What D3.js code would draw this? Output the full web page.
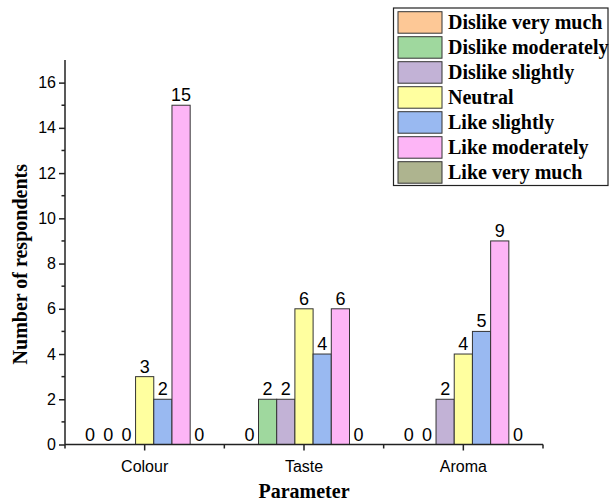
<!DOCTYPE html>
<html>
<head>
<meta charset="utf-8">
<script src="https://cdn.jsdelivr.net/npm/d3@7"></script>
<style>
  body { margin: 0; background: #fff; }
  svg { display: block; }
</style>
</head>
<body>
<div id="chart-area"></div>
<script>
const categories = ['Colour', 'Taste', 'Aroma'];
const seriesNames = ['Dislike very much', 'Dislike moderately', 'Dislike slightly',
  'Neutral', 'Like slightly', 'Like moderately', 'Like very much'];
const colours = ['#fdc896', '#9fd89e', '#c2b2d6', '#ffff9f', '#99b9f1', '#fdb5f6', '#aeb48f'];
// one array per parameter, in the order of seriesNames
const colourValues = [0, 0, 0, 3, 2, 15, 0];
const tasteValues = [0, 2, 2, 6, 4, 6, 0];
const aromaValues = [0, 0, 2, 4, 5, 9, 0];
const yTicks = [0, 2, 4, 6, 8, 10, 12, 14, 16];

const valuesByCat = {Colour: colourValues, Taste: tasteValues, Aroma: aromaValues};

const WIDTH = 610;
const HEIGHT = 502;
const PLOT = {LEFT: 65, RIGHT: 543, TOP: 60, BOTTOM: 444.5};

const SANS = "'Liberation Sans', Arial, sans-serif";
const SERIF = "'Liberation Serif', 'Times New Roman', serif";

const svg = d3.select('#chart-area').append('svg')
  .attr('width', WIDTH)
  .attr('height', HEIGHT);

const x = d3.scaleBand()
  .domain(categories)
  .range([PLOT.LEFT, PLOT.RIGHT]);

const BAR_W = 18.2;
const xInner = d3.scaleBand()
  .domain(seriesNames)
  .range([-BAR_W * 3.5, BAR_W * 3.5]);

const y = d3.scaleLinear()
  .domain([0, 17])
  .range([PLOT.BOTTOM, PLOT.TOP]);

const color = d3.scaleOrdinal().domain(seriesNames).range(colours);

// flat list of bars
const bars = [];
categories.forEach(c => {
  valuesByCat[c].forEach((v, i) => {
    bars.push({cat: c, series: seriesNames[i], value: v});
  });
});

const barX = d => x(d.cat) + x.bandwidth() / 2 + xInner(d.series);

svg.append('g').selectAll('rect')
  .data(bars.filter(d => d.value > 0))
  .enter().append('rect')
  .attr('x', barX)
  .attr('y', d => y(d.value))
  .attr('width', xInner.bandwidth())
  .attr('height', d => y(0) - y(d.value))
  .attr('fill', d => color(d.series))
  .attr('stroke', '#333')
  .attr('stroke-width', 1);

svg.append('g').selectAll('text')
  .data(bars)
  .enter().append('text')
  .attr('x', d => barX(d) + xInner.bandwidth() / 2)
  .attr('y', d => y(d.value) - 4)
  .attr('text-anchor', 'middle')
  .attr('font-family', SANS)
  .attr('font-size', 18)
  .attr('fill', '#000')
  .text(d => d.value);

// y axis
const yAxis = d3.axisLeft(y)
  .tickValues(yTicks)
  .tickSize(6)
  .tickPadding(3);
const gy = svg.append('g')
  .attr('transform', `translate(${PLOT.LEFT},0)`)
  .call(yAxis);
gy.select('.domain').attr('stroke', '#222').attr('stroke-width', 1.5).attr('d', `M0,${PLOT.BOTTOM}V${PLOT.TOP}`);
gy.selectAll('.tick line').attr('stroke', '#222').attr('stroke-width', 1.5);
gy.selectAll('.tick text').attr('font-family', SANS).attr('font-size', 16).attr('fill', '#000');

const minorY = d3.range(1, 17, 2);
gy.selectAll('.minor')
  .data(minorY)
  .enter().append('line')
  .attr('class', 'minor')
  .attr('x1', -3.5)
  .attr('x2', 0)
  .attr('y1', d => y(d))
  .attr('y2', d => y(d))
  .attr('stroke', '#222')
  .attr('stroke-width', 1.5);

// x axis
const xAxis = d3.axisBottom(x)
  .tickSize(6)
  .tickPadding(10);
const gx = svg.append('g')
  .attr('transform', `translate(0,${PLOT.BOTTOM})`)
  .call(xAxis);
gx.select('.domain').attr('stroke', '#222').attr('stroke-width', 1.5).attr('d', `M${PLOT.LEFT},0H${PLOT.RIGHT}`);
gx.selectAll('.tick line').attr('stroke', '#222').attr('stroke-width', 1.5);
gx.selectAll('.tick text').attr('font-family', SANS).attr('font-size', 16).attr('fill', '#000');

const bounds = categories.map(c => x(c)).concat([x.range()[1]]);
gx.selectAll('.minor')
  .data(bounds)
  .enter().append('line')
  .attr('class', 'minor')
  .attr('x1', d => d)
  .attr('x2', d => d)
  .attr('y1', 0)
  .attr('y2', 4)
  .attr('stroke', '#222')
  .attr('stroke-width', 1.5);

// axis titles
svg.append('text')
  .attr('transform', `translate(27,${(PLOT.TOP + PLOT.BOTTOM) / 2 + 12}) rotate(-90)`)
  .attr('text-anchor', 'middle')
  .attr('font-family', SERIF)
  .attr('font-weight', 'bold')
  .attr('font-size', 20)
  .text('Number of respondents');

svg.append('text')
  .attr('x', (PLOT.LEFT + PLOT.RIGHT) / 2)
  .attr('y', 498)
  .attr('text-anchor', 'middle')
  .attr('font-family', SERIF)
  .attr('font-weight', 'bold')
  .attr('font-size', 20)
  .text('Parameter');

// legend
const legend = svg.append('g');
legend.append('rect')
  .attr('x', 393.5)
  .attr('y', 8)
  .attr('width', 214.5)
  .attr('height', 177.5)
  .attr('fill', '#fff')
  .attr('stroke', '#222')
  .attr('stroke-width', 1.2);

const item = legend.selectAll('.item')
  .data(seriesNames)
  .enter().append('g')
  .attr('class', 'item')
  .attr('transform', (d, i) => `translate(398,${11.7 + i * 25})`);

item.append('rect')
  .attr('width', 44)
  .attr('height', 21.5)
  .attr('fill', d => color(d))
  .attr('stroke', '#333')
  .attr('stroke-width', 1);

item.append('text')
  .attr('x', 50)
  .attr('y', 17.5)
  .attr('font-family', SERIF)
  .attr('font-weight', 'bold')
  .attr('font-size', 20)
  .text(d => d);
</script>
</body>
</html>
